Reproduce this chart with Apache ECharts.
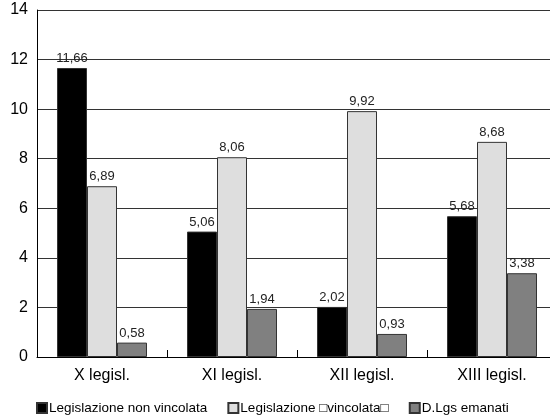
<!DOCTYPE html>
<html>
<head>
<meta charset="utf-8">
<script src="https://cdn.jsdelivr.net/npm/echarts@6/dist/echarts.min.js"></script>
<style>
  html, body { margin: 0; padding: 0; background: #fff; }
  #chart { width: 550px; height: 417px; }
</style>
</head>
<body>
<div id="chart"></div>
<script>
// Legislature groups and the three measures shown for each
const categories = ['X legisl.', 'XI legisl.', 'XII legisl.', 'XIII legisl.'];
const seriesNames = ['Legislazione non vincolata', 'Legislazione \u25a1vincolata\u25a1', 'D.Lgs emanati'];
const nonVincolata = [11.66, 5.06, 2.02, 5.68];
const vincolata = [6.89, 8.06, 9.92, 8.68];
const dlgsEmanati = [0.58, 1.94, 0.93, 3.38];
const yTicks = [0, 2, 4, 6, 8, 10, 12, 14];

const FONT = '"Liberation Sans", Arial, Helvetica, sans-serif';
const fills = ['#000000', '#dedede', '#808080'];

function itaNumber(v) {
  return v.toFixed(2).replace('.', ',');
}

function barSeries(name, data, color) {
  return {
    name: name,
    type: 'bar',
    data: data,
    barWidth: 30,
    barGap: '0%',
    itemStyle: { color: color, borderColor: '#333', borderWidth: 1 },
    label: {
      show: true,
      position: 'top',
      distance: 3,
      fontFamily: FONT,
      fontSize: 13,
      color: '#222',
      formatter: p => itaNumber(p.value)
    }
  };
}

const chart = echarts.init(document.getElementById('chart'), null, { renderer: 'canvas' });
chart.setOption({
  animation: false,
  grid: {
    left: 37, top: 10, width: 520, height: 347,
    outerBoundsMode: 'none'
  },
  legend: {
    left: 31, top: 396,
    icon: 'rect', itemWidth: 10, itemHeight: 10, itemGap: 20,
    textStyle: { fontFamily: FONT, fontSize: 13.5, color: '#000', padding: [0, 0, 0, -3] },
    data: seriesNames
  },
  xAxis: {
    type: 'category',
    data: categories,
    axisLine: { lineStyle: { color: '#000', width: 1 } },
    axisTick: { show: true, inside: true, length: 7, lineStyle: { color: '#000' } },
    splitLine: { show: false },
    axisLabel: { fontFamily: FONT, fontSize: 16, color: '#000', margin: 11 }
  },
  yAxis: {
    type: 'value',
    min: yTicks[0], max: yTicks[yTicks.length - 1], interval: 2,
    axisLine: { show: true, lineStyle: { color: '#000', width: 1 } },
    axisTick: { show: false },
    splitLine: { lineStyle: { color: '#333', width: 1 } },
    axisLabel: { fontFamily: FONT, fontSize: 16, color: '#000', margin: 9 }
  },
  series: [
    barSeries(seriesNames[0], nonVincolata, fills[0]),
    barSeries(seriesNames[1], vincolata, fills[1]),
    barSeries(seriesNames[2], dlgsEmanati, fills[2])
  ]
});
</script>
</body>
</html>
